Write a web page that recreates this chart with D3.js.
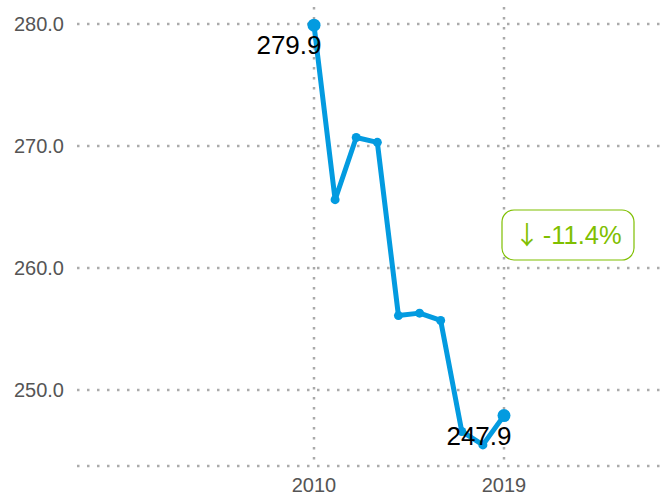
<!DOCTYPE html>
<html>
<head>
<meta charset="utf-8">
<script src="https://cdn.jsdelivr.net/npm/d3@7"></script>
<style>
  html, body { margin: 0; padding: 0; background: #fff; }
  svg { display: block; font-family: "Liberation Sans", Arial, sans-serif; }
</style>
</head>
<body>
<svg id="chart" width="661" height="495"></svg>
<script>
const years = [2010, 2011, 2012, 2013, 2014, 2015, 2016, 2017, 2018, 2019];
const values = [279.9, 265.6, 270.7, 270.3, 256.1, 256.3, 255.7, 246.6, 245.5, 247.9];
const yTicks = [250, 260, 270, 280];
const xTicks = [2010, 2019];
const changeArrow = "↓";
const changeText = "-11.4%";

const svg = d3.select("#chart");
const plotLeft = 77, plotRight = 661, plotTop = 7, plotBottom = 466;

const x = d3.scaleLinear().domain([2010, 2019]).range([314, 504]);
const y = d3.scaleLinear().domain([250, 280]).range([390, 24]);

const gridColor = "#aaaaaa";
const hLines = yTicks.map(v => y(v)).concat([plotBottom]);
svg.append("g").selectAll("line").data(hLines).join("line")
  .attr("x1", plotLeft).attr("x2", plotRight)
  .attr("y1", d => d).attr("y2", d => d)
  .attr("stroke", gridColor).attr("stroke-width", 2.5)
  .attr("stroke-dasharray", "2.5,7.5");
svg.append("g").selectAll("line").data(xTicks).join("line")
  .attr("x1", d => x(d)).attr("x2", d => x(d))
  .attr("y1", plotTop).attr("y2", plotBottom)
  .attr("stroke", gridColor).attr("stroke-width", 2.5)
  .attr("stroke-dasharray", "2.5,7.5");

svg.append("g").selectAll("text").data(yTicks).join("text")
  .attr("x", 64).attr("y", d => y(d)).attr("dy", "0.35em")
  .attr("text-anchor", "end").attr("font-size", 20).attr("fill", "#555")
  .text(d => d3.format(".1f")(d));
svg.append("g").selectAll("text").data(xTicks).join("text")
  .attr("x", d => x(d)).attr("y", 485).attr("dy", "0.35em")
  .attr("text-anchor", "middle").attr("font-size", 20).attr("fill", "#555")
  .text(d => d);

const data = years.map((yr, i) => ({ yr, v: values[i] }));
const color = "#039be0";
svg.append("path").datum(data)
  .attr("fill", "none").attr("stroke", color).attr("stroke-width", 5)
  .attr("stroke-linejoin", "round")
  .attr("d", d3.line().x(d => x(d.yr)).y(d => y(d.v)));
svg.append("g").selectAll("circle").data(data).join("circle")
  .attr("cx", d => x(d.yr)).attr("cy", d => y(d.v))
  .attr("r", (d, i) => (i === 0 || i === data.length - 1) ? 6.5 : 4.5)
  .attr("fill", color);

const ends = [data[0], data[data.length - 1]];
svg.append("g").selectAll("text").data(ends).join("text")
  .attr("x", d => x(d.yr) - 25).attr("y", d => y(d.v) + 20).attr("dy", "0.35em")
  .attr("text-anchor", "middle").attr("font-size", 26).attr("fill", "#000")
  .text(d => d3.format(".1f")(d.v));

const green = "#7fbf00";
const bx = 502, by = 210, bw = 132, bh = 50;
svg.append("rect").attr("x", bx).attr("y", by).attr("width", bw).attr("height", bh)
  .attr("rx", 12).attr("fill", "#fff").attr("stroke", green).attr("stroke-width", 1.2);
const t = svg.append("text").attr("x", bx + bw / 2).attr("y", 244)
  .attr("text-anchor", "middle").attr("font-size", 25.5).attr("fill", green);
t.append("tspan").attr("font-family", "'Noto Sans CJK JP'").text(changeArrow);
t.append("tspan").attr("dx", 3).text(changeText);
</script>
</body>
</html>
